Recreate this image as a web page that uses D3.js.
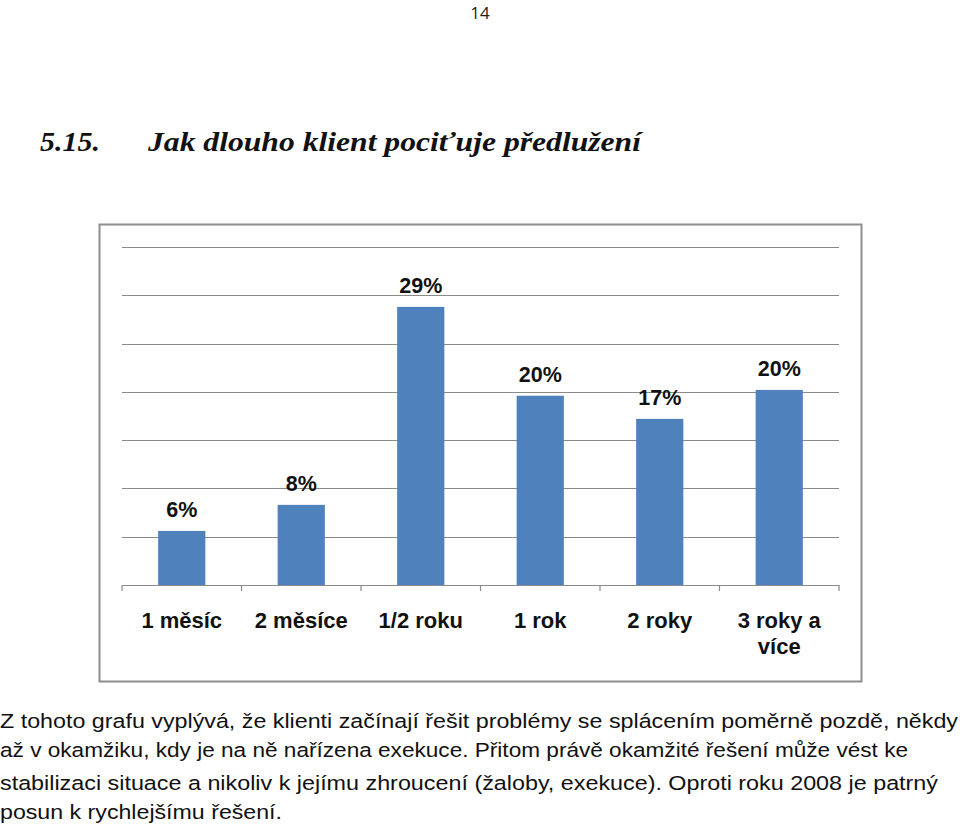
<!DOCTYPE html>
<html><head><meta charset="utf-8">
<script src="https://cdn.jsdelivr.net/npm/d3@7"></script>
<style>html,body{margin:0;padding:0;background:#fff;}svg{display:block;}</style>
</head><body>
<svg id="c" width="960" height="830"></svg>
<script>
const categories = ["1 měsíc", "2 měsíce", "1/2 roku", "1 rok", "2 roky", "3 roky a|více"];
const values = [5.6, 8.3, 28.8, 19.6, 17.2, 20.2];
const yTicks = [0, 5, 10, 15, 20, 25, 30, 35];
const pageNumber = "14";
const titleNum = "5.15.";
const titleText = "Jak dlouho klient pociťuje předlužení";
const bodyLines = [
  "Z tohoto grafu vyplývá, že klienti začínají řešit problémy se splácením poměrně pozdě, někdy",
  "až v okamžiku, kdy je na ně nařízena exekuce. Přitom právě okamžité řešení může vést ke",
  "stabilizaci situace a nikoliv k jejímu zhroucení (žaloby, exekuce). Oproti roku 2008 je patrný",
  "posun k rychlejšímu řešení."
];
const bodyWidths = [958, 908, 938, 282];

const svg = d3.select("#c");

svg.append("text").attr("x", 480).attr("y", 19).attr("text-anchor", "middle")
  .attr("font-family", "Open Sans, Liberation Sans, sans-serif").attr("font-size", 17).attr("fill", "#222")
  .text(pageNumber);

const tf = "Liberation Serif, DejaVu Serif, serif";
svg.append("text").attr("x", 40).attr("y", 151).attr("font-family", tf).attr("font-size", 28)
  .attr("font-weight", "bold").attr("font-style", "italic").attr("fill", "#111")
  .attr("textLength", 60).attr("lengthAdjust", "spacingAndGlyphs").text(titleNum);
svg.append("text").attr("x", 148).attr("y", 151).attr("font-family", tf).attr("font-size", 28)
  .attr("font-weight", "bold").attr("font-style", "italic").attr("fill", "#111")
  .attr("textLength", 493).attr("lengthAdjust", "spacingAndGlyphs").text(titleText);

// chart frame
svg.append("rect").attr("x", 99.5).attr("y", 224.5).attr("width", 762).attr("height", 457)
  .attr("fill", "#fff").attr("stroke", "#8e8e8e").attr("stroke-width", 2);

const x = d3.scaleBand().domain(categories).range([122, 839]).padding(0);
const y = d3.scaleLinear().domain([0, 35]).range([585, 247]);

const g = svg.append("g");
// gridlines
g.selectAll("line.grid").data(yTicks.filter(t => t > 0)).join("line")
  .attr("x1", 122).attr("x2", 839)
  .attr("y1", d => Math.round(y(d)) + 0.5).attr("y2", d => Math.round(y(d)) + 0.5)
  .attr("stroke", "#8a8a8a").attr("stroke-width", 1.2);

// bars
const bw = x.bandwidth() * 0.395;
g.selectAll("rect.bar").data(values).join("rect")
  .attr("x", (d, i) => x(categories[i]) + x.bandwidth() / 2 - bw / 2)
  .attr("width", bw)
  .attr("y", d => y(d))
  .attr("height", d => y(0) - y(d))
  .attr("fill", "#4f81bd");

// x axis
const xAxis = d3.axisBottom(x).tickSize(0).tickFormat("");
const ax = svg.append("g").attr("transform", `translate(0,${y(0)})`).call(xAxis);
ax.select(".domain").attr("stroke", "#8a8a8a").attr("stroke-width", 1.2);
const bounds = categories.map(c => x(c)).concat([x.range()[1]]);
ax.selectAll("line.bt").data(bounds).join("line")
  .attr("x1", d => d).attr("x2", d => d).attr("y1", 0).attr("y2", 6)
  .attr("stroke", "#8a8a8a").attr("stroke-width", 1.2);

// category labels
const lf = "Liberation Sans, Arial, sans-serif";
categories.forEach(c => {
  const parts = c.split("|");
  const t = svg.append("text").attr("text-anchor", "middle").attr("font-family", lf)
    .attr("font-size", 22).attr("font-weight", "bold").attr("fill", "#111");
  parts.forEach((p, k) => {
    t.append("tspan").attr("x", x(c) + x.bandwidth() / 2).attr("y", 628 + k * 26).text(p);
  });
});

// value labels
g.selectAll("text.val").data(values).join("text")
  .attr("x", (d, i) => x(categories[i]) + x.bandwidth() / 2)
  .attr("y", d => y(d) - 14)
  .attr("text-anchor", "middle").attr("font-family", lf).attr("font-size", 21.5)
  .attr("font-weight", "bold").attr("fill", "#111")
  .text(d => Math.round(d) + "%");

// body text
const ys = [728, 757, 790, 819];
bodyLines.forEach((l, i) => {
  svg.append("text").attr("x", 0).attr("y", ys[i]).attr("font-family", lf).attr("font-size", 20.5)
    .attr("fill", "#111").attr("textLength", bodyWidths[i]).attr("lengthAdjust", "spacingAndGlyphs").text(l);
});
</script>
</body></html>
